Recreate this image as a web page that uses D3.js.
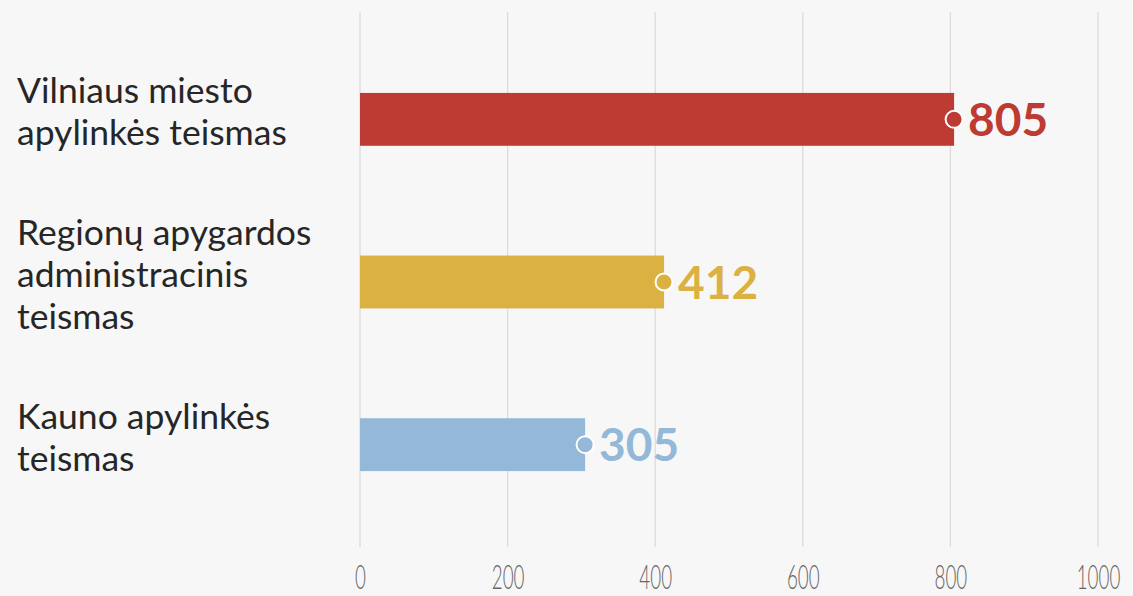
<!DOCTYPE html>
<html lang="lt">
  <head>
    <meta charset="UTF-8" />
    <title>Teismai</title>
    <script src="https://d3js.org/d3.v7.min.js"></script>
    <style>
      body { margin: 0; background: #f7f7f7; }
    </style>
  </head>
  <body>
    <script>
      var courts = [
        ["Vilniaus miesto", "apylinkės teismas"],
        ["Regionų apygardos", "administracinis", "teismas"],
        ["Kauno apylinkės", "teismas"],
      ];
      var cases = [805, 412, 305];
      var colors = ["#bd3b33", "#dbb142", "#94b8d8"];
      var tickValues = [0, 200, 400, 600, 800, 1000];

      var width = 1133, height = 596;

      var svg = d3
        .select("body")
        .append("svg")
        .attr("width", width)
        .attr("height", height)
        .style("display", "block")
        .style("background", "#f7f7f7");

      var x = d3.scaleLinear().domain([0, 1000]).range([360, 1098]);
      var y = d3
        .scaleBand()
        .domain(d3.range(cases.length))
        .range([36, 528])
        .paddingInner(0.675)
        .paddingOuter(0.35);

      // grid lines
      svg
        .append("g")
        .selectAll("line")
        .data(tickValues)
        .enter()
        .append("line")
        .attr("x1", function (d) { return x(d); })
        .attr("x2", function (d) { return x(d); })
        .attr("y1", 12)
        .attr("y2", 547)
        .attr("stroke", "#dcdcdc")
        .attr("stroke-width", 1.3);

      // axis labels (narrow look)
      var axis = svg
        .append("g")
        .attr("transform", "translate(0,589)")
        .call(
          d3.axisBottom(x)
            .tickValues(tickValues)
            .tickFormat(d3.format("d"))
            .tickSize(0)
            .tickPadding(0)
        );
      axis.select(".domain").remove();
      axis
        .selectAll(".tick text")
        .attr("dy", 0)
        .attr("y", 0)
        .attr("transform", "scale(0.57,1)")
        .style("font-family", "Lato, sans-serif")
        .style("font-weight", 300)
        .style("font-size", "33px")
        .attr("fill", "#666666");

      var rows = svg
        .selectAll(".row")
        .data(cases)
        .enter()
        .append("g")
        .attr("class", "row");

      rows
        .append("rect")
        .attr("x", x(0))
        .attr("y", function (d, i) { return y(i); })
        .attr("width", function (d) { return x(d) - x(0); })
        .attr("height", y.bandwidth())
        .attr("fill", function (d, i) { return colors[i]; });

      rows
        .append("circle")
        .attr("cx", function (d) { return x(d); })
        .attr("cy", function (d, i) { return y(i) + y.bandwidth() / 2; })
        .attr("r", 8.5)
        .attr("fill", function (d, i) { return colors[i]; })
        .attr("stroke", "#ffffff")
        .attr("stroke-width", 2);

      rows
        .append("text")
        .attr("x", function (d) { return x(d) + 14; })
        .attr("y", function (d, i) { return y(i) + y.bandwidth() / 2; })
        .attr("dy", "0.36em")
        .style("font-family", "Lato, sans-serif")
        .style("font-weight", "bold")
        .style("font-size", "46px")
        .attr("fill", function (d, i) { return colors[i]; })
        .text(function (d) { return d; });

      // category labels
      rows
        .append("text")
        .attr("x", 17)
        .style("font-family", "Lato, sans-serif")
        .style("font-size", "35.5px")
        .attr("fill", "#262626")
        .each(function (d, i) {
          var lines = courts[i];
          var c = y(i) + y.bandwidth() / 2;
          var t = d3.select(this);
          lines.forEach(function (l, j) {
            t.append("tspan")
              .attr("x", 17)
              .attr("y", c + (j - (lines.length - 1) / 2) * 42 + 5)
              .text(l);
          });
        });
    </script>
  </body>
</html>
